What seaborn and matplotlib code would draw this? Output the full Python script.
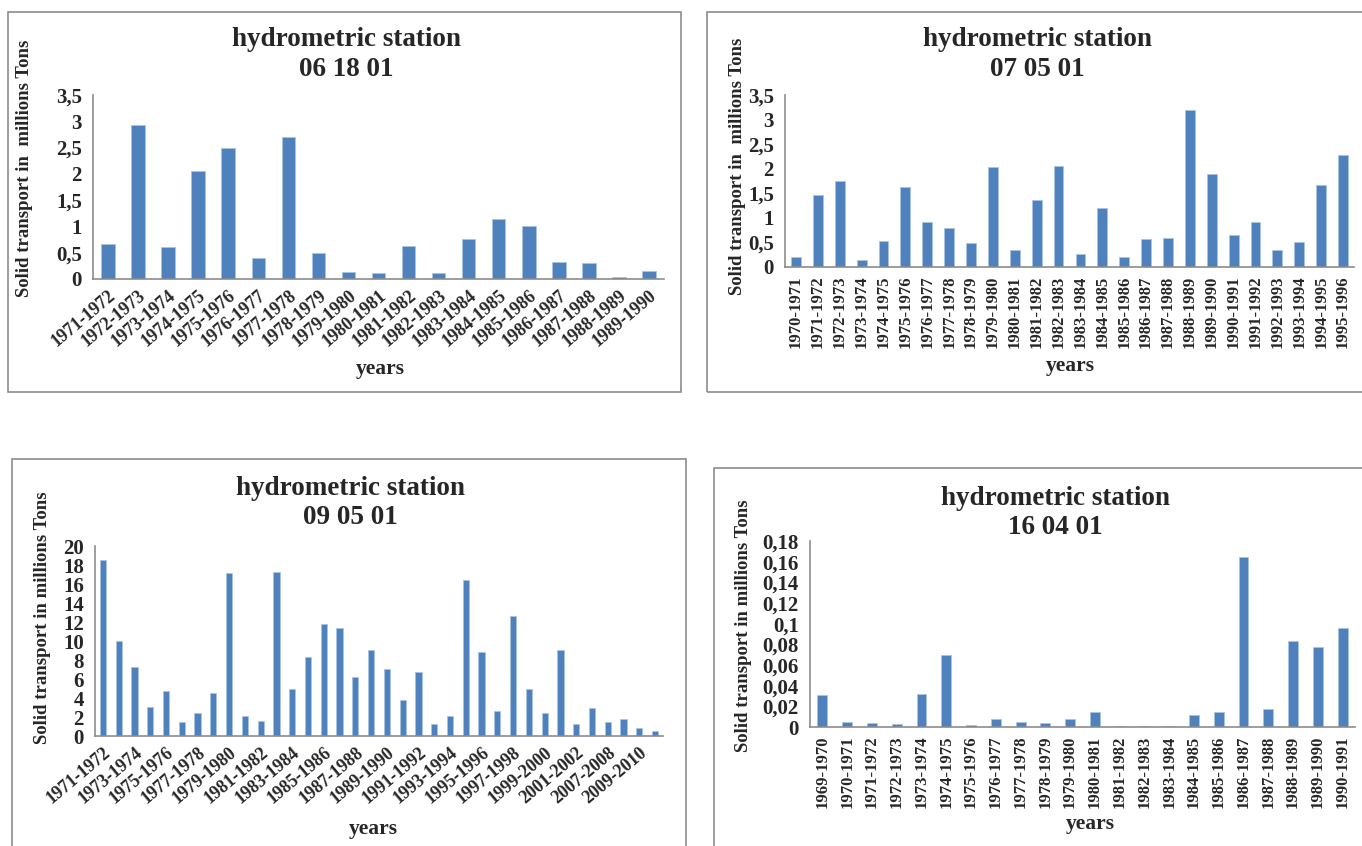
import numpy as np
import pandas as pd
import matplotlib
matplotlib.use('Agg')
import matplotlib.pyplot as plt
import seaborn as sns
from matplotlib.patches import Rectangle
from matplotlib.ticker import FuncFormatter, FixedLocator

## data
years_061801 = ['1971-1972', '1972-1973', '1973-1974', '1974-1975', '1975-1976', '1976-1977',
                '1977-1978', '1978-1979', '1979-1980', '1980-1981', '1981-1982', '1982-1983',
                '1983-1984', '1984-1985', '1985-1986', '1986-1987', '1987-1988', '1988-1989',
                '1989-1990']
transport_061801 = [0.66, 2.92, 0.60, 2.05, 2.49, 0.39, 2.70, 0.50, 0.14, 0.12, 0.62, 0.12,
                    0.76, 1.14, 1.00, 0.33, 0.31, 0.04, 0.16]

years_070501 = ['1970-1971', '1971-1972', '1972-1973', '1973-1974', '1974-1975', '1975-1976',
                '1976-1977', '1977-1978', '1978-1979', '1979-1980', '1980-1981', '1981-1982',
                '1982-1983', '1983-1984', '1984-1985', '1985-1986', '1986-1987', '1987-1988',
                '1988-1989', '1989-1990', '1990-1991', '1991-1992', '1992-1993', '1993-1994',
                '1994-1995', '1995-1996']
transport_070501 = [0.21, 1.46, 1.75, 0.15, 0.52, 1.62, 0.91, 0.79, 0.48, 2.03, 0.35, 1.36,
                    2.05, 0.27, 1.21, 0.21, 0.56, 0.58, 3.20, 1.89, 0.66, 0.91, 0.35, 0.50,
                    1.66, 2.28]

years_090501 = ['1971-1972', '1972-1973', '1973-1974', '1974-1975', '1975-1976', '1976-1977',
                '1977-1978', '1978-1979', '1979-1980', '1980-1981', '1981-1982', '1982-1983',
                '1983-1984', '1984-1985', '1985-1986', '1986-1987', '1987-1988', '1988-1989',
                '1989-1990', '1990-1991', '1991-1992', '1992-1993', '1993-1994', '1994-1995',
                '1995-1996', '1996-1997', '1997-1998', '1998-1999', '1999-2000', '2000-2001',
                '2001-2002', '2006-2007', '2007-2008', '2008-2009', '2009-2010', '2010-2011']
transport_090501 = [18.5, 10.0, 7.3, 3.1, 4.7, 1.5, 2.4, 4.5, 17.2, 2.1, 1.6, 17.3,
                    4.9, 8.3, 11.8, 11.4, 6.2, 9.1, 7.1, 3.8, 6.7, 1.3, 2.1, 16.4,
                    8.8, 2.6, 12.6, 5.0, 2.4, 9.1, 1.3, 2.9, 1.5, 1.8, 0.85, 0.5]

years_160401 = ['1969-1970', '1970-1971', '1971-1972', '1972-1973', '1973-1974', '1974-1975',
                '1975-1976', '1976-1977', '1977-1978', '1978-1979', '1979-1980', '1980-1981',
                '1981-1982', '1982-1983', '1983-1984', '1984-1985', '1985-1986', '1986-1987',
                '1987-1988', '1988-1989', '1989-1990', '1990-1991']
transport_160401 = [0.031, 0.005, 0.0035, 0.0025, 0.032, 0.070, 0.0015, 0.0075, 0.0045, 0.0035,
                    0.0075, 0.0145, 0.0006, 0.0006, 0.0006, 0.0115, 0.0145, 0.165, 0.017, 0.083,
                    0.077, 0.0955]

stations = ['06 18 01', '07 05 01', '09 05 01', '16 04 01']

W, H = 1362, 846
sns.set_style('white')
plt.rcParams['font.family'] = ['Liberation Serif', 'DejaVu Serif']
plt.rcParams['font.weight'] = 'bold'

fig = plt.figure(figsize=(W / 100, H / 100), dpi=100)

BLUE = '#4F81BD'
GREY = '#8C8C8C'


def px_axes(left, right, top, bottom):
    return fig.add_axes([left / W, 1 - bottom / H, (right - left) / W, (bottom - top) / H])


def frame(left, right, top, bottom):
    fig.add_artist(Rectangle((left / W, 1 - bottom / H), (right - left) / W, (bottom - top) / H,
                             transform=fig.transFigure, fill=False, edgecolor=GREY, lw=1.2))


def comma(v, pos):
    return '{:g}'.format(v).replace('.', ',')


def station_chart(ax, years, values, station, yticks, rot, title_xy, xlab_xy, ylab_xy,
                  every=1, width=0.45, ylab='Solid transport in  millions Tons'):
    df = pd.DataFrame({'years': years, 'transport': values})
    sns.barplot(data=df, x='years', y='transport', color=BLUE, width=width,
                saturation=1, edgecolor='#A9C4E4', linewidth=0.6, ax=ax)
    n = len(years)
    ax.set_xlim(-0.5, n - 0.5)
    ax.set_ylim(yticks[0], yticks[-1])
    ax.yaxis.set_major_locator(FixedLocator(yticks))
    ax.yaxis.set_major_formatter(FuncFormatter(comma))
    # Excel style: tick marks between categories, labels on bars
    ax.set_xticks(np.arange(0, n, every))
    ax.set_xticklabels(years[::every], fontsize=13 if rot != 90 else 12, fontweight='bold')
    ax.set_xticks(np.arange(-0.5, n, 1), minor=True)
    ax.tick_params(axis='x', which='major', length=0, pad=6)
    ax.tick_params(axis='x', which='minor', length=5, color=GREY, direction='out')
    ax.tick_params(axis='y', length=5, color=GREY, direction='out', labelsize=15, pad=3)
    for lab in ax.get_yticklabels():
        lab.set_fontweight('bold')
    for lab in ax.get_xticklabels():
        if rot != 90:
            lab.set_rotation(rot)
            lab.set_ha('right')
            lab.set_va('top')
            lab.set_rotation_mode('anchor')
        else:
            lab.set_rotation(90)
    sns.despine(ax=ax)
    for side in ['left', 'bottom']:
        ax.spines[side].set_color(GREY)
        ax.spines[side].set_linewidth(1.2)

    ax.set_xlabel('years', fontsize=15.5, fontweight='bold')
    ax.xaxis.set_label_coords(xlab_xy[0] / W, 1 - xlab_xy[1] / H, transform=fig.transFigure)
    ax.xaxis.label.set_va('center')
    ax.set_ylabel(ylab, fontsize=13.5, fontweight='bold')
    ax.yaxis.set_label_coords(ylab_xy[0] / W, 1 - ylab_xy[1] / H, transform=fig.transFigure)
    ax.yaxis.label.set_va('center')

    # two line chart title, centred on the chart frame
    tx, ty = title_xy
    fig.text(tx / W, 1 - ty / H, 'hydrometric station', fontsize=19.5, fontweight='bold',
             ha='center', va='center')
    fig.text(tx / W, 1 - (ty + 29) / H, station, fontsize=19.5, fontweight='bold',
             ha='center', va='center')


# 1. station 06 18 01
frame(8, 681, 12, 392)
ax1 = px_axes(93, 664, 95, 279)
station_chart(ax1, years_061801, transport_061801, stations[0],
              [0, 0.5, 1, 1.5, 2, 2.5, 3, 3.5], 40,
              title_xy=(346, 40), xlab_xy=(380, 369), ylab_xy=(25, 168))

# 2. station 07 05 01
frame(707, 1370, 12, 392)
ax2 = px_axes(785, 1354, 95, 267)
station_chart(ax2, years_070501, transport_070501, stations[1],
              [0, 0.5, 1, 1.5, 2, 2.5, 3, 3.5], 90,
              title_xy=(1037, 40), xlab_xy=(1070, 366), ylab_xy=(738, 166))

# 3. station 09 05 01
frame(12, 686, 459, 860)
ax3 = px_axes(95, 663, 546, 736)
station_chart(ax3, years_090501, transport_090501, stations[2],
              [0, 2, 4, 6, 8, 10, 12, 14, 16, 18, 20], 40,
              title_xy=(350, 488), xlab_xy=(373, 829), ylab_xy=(43, 618),
              every=2, width=0.4, ylab='Solid transport in millions Tons')

# 4. station 16 04 01
frame(714, 1370, 468, 860)
ax4 = px_axes(810, 1355, 541, 727)
station_chart(ax4, years_160401, transport_160401, stations[3],
              [0, 0.02, 0.04, 0.06, 0.08, 0.1, 0.12, 0.14, 0.16, 0.18], 90,
              title_xy=(1055, 498), xlab_xy=(1090, 824), ylab_xy=(744, 626),
              width=0.4, ylab='Solid transport in millions Tons')

fig.savefig('out.png', dpi=100)
